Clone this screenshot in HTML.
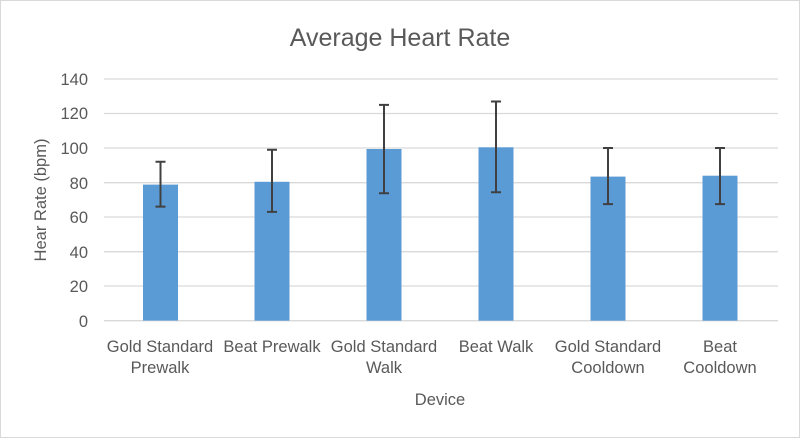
<!DOCTYPE html><html><head><style>body{margin:0}svg{display:block}text{font-family:"Liberation Sans",sans-serif;fill:#595959}</style></head><body>
<svg width="800" height="438" xmlns="http://www.w3.org/2000/svg">
<rect x="0.5" y="0.5" width="799" height="437" fill="#fff" stroke="#d9d9d9"/>
<text x="400" y="46" font-size="25" text-anchor="middle">Average Heart Rate</text>
<g stroke="#d9d9d9" stroke-width="1.3">
<line x1="104" x2="778" y1="79" y2="79"/><line x1="104" x2="778" y1="113.5" y2="113.5"/><line x1="104" x2="778" y1="148" y2="148"/><line x1="104" x2="778" y1="182.7" y2="182.7"/><line x1="104" x2="778" y1="217" y2="217"/><line x1="104" x2="778" y1="251.7" y2="251.7"/><line x1="104" x2="778" y1="286" y2="286"/><line x1="104" x2="778" y1="320.7" y2="320.7"/>
</g>
<g font-size="16.5" text-anchor="end">
<text x="88" y="85">140</text><text x="88" y="119">120</text><text x="88" y="154">100</text><text x="88" y="189">80</text><text x="88" y="223">60</text><text x="88" y="258">40</text><text x="88" y="292">20</text><text x="88" y="327">0</text>
</g>
<text transform="translate(46,200) rotate(-90)" font-size="16.5" text-anchor="middle">Hear Rate (bpm)</text>
<g fill="#5b9bd5">
<rect x="143" y="184.6" width="35" height="136"/>
<rect x="254.5" y="181.8" width="35" height="138.9"/>
<rect x="366.5" y="149" width="35" height="171.7"/>
<rect x="478.5" y="147.3" width="35" height="173.4"/>
<rect x="590.5" y="176.6" width="35" height="144.1"/>
<rect x="702.5" y="175.7" width="35" height="145"/>
</g>
<g stroke="#404040" stroke-width="2" fill="none">
<path d="M160.5 161.7V206.6M155.5 161.7h10M155.5 206.6h10"/>
<path d="M272 149.8V211.9M267 149.8h10M267 211.9h10"/>
<path d="M384 104.9V193.2M379 104.9h10M379 193.2h10"/>
<path d="M496 101.5V192.3M491 101.5h10M491 192.3h10"/>
<path d="M608 148V204.1M603 148h10M603 204.1h10"/>
<path d="M720 148V204.1M715 148h10M715 204.1h10"/>
</g>
<g font-size="16.5" text-anchor="middle">
<text x="160" y="352">Gold Standard</text><text x="160" y="373">Prewalk</text>
<text x="272" y="352">Beat Prewalk</text>
<text x="384" y="352">Gold Standard</text><text x="384" y="373">Walk</text>
<text x="496" y="352">Beat Walk</text>
<text x="608" y="352">Gold Standard</text><text x="608" y="373">Cooldown</text>
<text x="720" y="352">Beat</text><text x="720" y="373">Cooldown</text>
<text x="440" y="405">Device</text>
</g>
</svg></body></html>
